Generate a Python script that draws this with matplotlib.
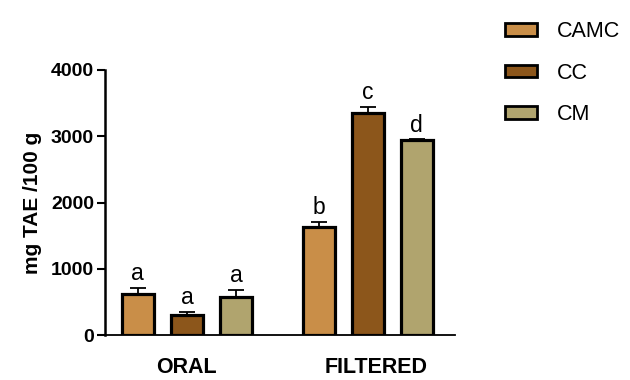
import numpy as np
import matplotlib.pyplot as plt
import matplotlib
from matplotlib.patches import Patch

matplotlib.rcParams.update({
    "font.family": ["Liberation Sans", "DejaVu Sans"],
})

groups = ["ORAL", "FILTERED"]
series = ["CAMC", "CC", "CM"]
colors = ["#C98E48", "#8C561B", "#B0A46E"]

means = {
    "CAMC": [620, 1630],
    "CC": [300, 3350],
    "CM": [575, 2940],
}
errs = {
    "CAMC": [90, 80],
    "CC": [45, 90],
    "CM": [105, 12],
}
letters = {
    "CAMC": ["a", "b"],
    "CC": ["a", "c"],
    "CM": ["a", "d"],
}

fig = plt.figure(figsize=(6.3, 3.8), dpi=100)
ax = fig.add_axes([0.1667, 0.1184, 0.5556, 0.6974])

group_start = [0.0, 3.69]
width = 0.65

for j, s in enumerate(series):
    xs = [g + j for g in group_start]
    ax.bar(xs, means[s], width=width, color=colors[j], edgecolor="black",
           linewidth=2.3, zorder=2)
    ax.errorbar(xs, means[s], yerr=[[0, 0], errs[s]], fmt="none",
                ecolor="black", elinewidth=1.3, capsize=6, capthick=1.3, zorder=1)
    for x, m, e, l in zip(xs, means[s], errs[s], letters[s]):
        ax.annotate(l, (x, m + e), xytext=(0, 2), textcoords="offset points",
                    ha="center", va="bottom", fontsize=16.5)

ax.set_xlim(-0.67, 6.47)
ax.set_ylim(0, 4000)
ax.set_yticks([0, 1000, 2000, 3000, 4000])
# group labels (FILTERED label sits a bit right of its middle bar in the original)
ax.set_xticks([group_start[0] + 1, group_start[1] + 1.18])
ax.set_xticklabels(groups, fontsize=15.5, fontweight="bold")
ax.tick_params(axis="x", length=0, pad=16)
ax.tick_params(axis="y", length=6, width=1.5, labelsize=14, pad=2)
for lab in ax.get_yticklabels():
    lab.set_fontweight("bold")
ax.set_ylabel("mg TAE /100 g", fontsize=15, fontweight="bold", labelpad=6)

ax.spines["top"].set_visible(False)
ax.spines["right"].set_visible(False)
ax.spines["left"].set_linewidth(1.8)
ax.spines["bottom"].set_linewidth(1.3)

handles = [Patch(facecolor=c, edgecolor="black", linewidth=2, label=s)
           for s, c in zip(series, colors)]
fig.legend(handles=handles, loc="upper left", bbox_to_anchor=(0.771, 0.995),
           frameon=False, fontsize=15.5, handlelength=1.5, handleheight=0.5,
           handletextpad=0.9, labelspacing=0.95)

plt.savefig("out.png", dpi=100)
